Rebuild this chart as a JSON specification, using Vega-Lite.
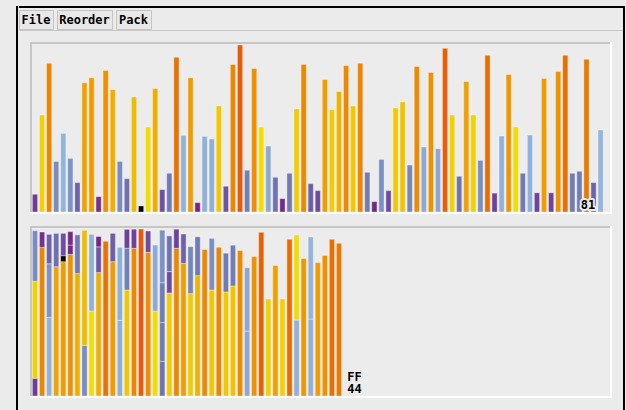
{
  "$schema": "https://vega.github.io/schema/vega-lite/v6.json",
  "background": "#ebebeb",
  "padding": {"left": 16, "top": 6, "right": 2, "bottom": 0},
  "config": {"view": {"stroke": null}, "axis": {"grid": false}, "point": {"size": 0, "strokeWidth": 0, "filled": true, "opacity": 0}},
  "datasets": {
    "items": [
      {"i": 1, "v": 0.106, "bin": 1}, {"i": 2, "v": 0.581, "bin": 1}, {"i": 3, "v": 0.890, "bin": 2},
      {"i": 4, "v": 0.303, "bin": 1}, {"i": 5, "v": 0.471, "bin": 3}, {"i": 6, "v": 0.321, "bin": 3},
      {"i": 7, "v": 0.176, "bin": 3}, {"i": 8, "v": 0.774, "bin": 4}, {"i": 9, "v": 0.804, "bin": 5},
      {"i": 10, "v": 0.092, "bin": 2}, {"i": 11, "v": 0.848, "bin": 6}, {"i": 12, "v": 0.733, "bin": 7},
      {"i": 13, "v": 0.303, "bin": 8}, {"i": 14, "v": 0.200, "bin": 4}, {"i": 15, "v": 0.689, "bin": 8},
      {"i": 16, "v": 0.036, "bin": 5}, {"i": 17, "v": 0.509, "bin": 9}, {"i": 18, "v": 0.739, "bin": 10},
      {"i": 19, "v": 0.134, "bin": 5}, {"i": 20, "v": 0.232, "bin": 7}, {"i": 21, "v": 0.926, "bin": 11},
      {"i": 22, "v": 0.459, "bin": 9}, {"i": 23, "v": 0.804, "bin": 12}, {"i": 24, "v": 0.056, "bin": 6},
      {"i": 25, "v": 0.453, "bin": 13}, {"i": 26, "v": 0.437, "bin": 13}, {"i": 27, "v": 0.635, "bin": 14},
      {"i": 28, "v": 0.154, "bin": 10}, {"i": 29, "v": 0.884, "bin": 15}, {"i": 30, "v": 1.000, "bin": 16},
      {"i": 31, "v": 0.250, "bin": 14}, {"i": 32, "v": 0.860, "bin": 17}, {"i": 33, "v": 0.509, "bin": 18},
      {"i": 34, "v": 0.395, "bin": 18}, {"i": 35, "v": 0.208, "bin": 19}, {"i": 36, "v": 0.080, "bin": 6},
      {"i": 37, "v": 0.232, "bin": 19}, {"i": 38, "v": 0.617, "bin": 20}, {"i": 39, "v": 0.884, "bin": 21},
      {"i": 40, "v": 0.170, "bin": 12}, {"i": 41, "v": 0.128, "bin": 17}, {"i": 42, "v": 0.794, "bin": 22},
      {"i": 43, "v": 0.613, "bin": 23}, {"i": 44, "v": 0.721, "bin": 24}, {"i": 45, "v": 0.878, "bin": 25},
      {"i": 46, "v": 0.635, "bin": 26}, {"i": 47, "v": 0.890, "bin": 27}, {"i": 48, "v": 0.238, "bin": 19},
      {"i": 49, "v": 0.062, "bin": 10}, {"i": 50, "v": 0.315, "bin": 19}, {"i": 51, "v": 0.128, "bin": 20},
      {"i": 52, "v": 0.623, "bin": 28}, {"i": 53, "v": 0.659, "bin": 29}, {"i": 54, "v": 0.281, "bin": 23},
      {"i": 55, "v": 0.872, "bin": 30}, {"i": 56, "v": 0.389, "bin": 31}, {"i": 57, "v": 0.836, "bin": 32},
      {"i": 58, "v": 0.379, "bin": 31}, {"i": 59, "v": 0.980, "bin": 33}, {"i": 60, "v": 0.581, "bin": 34},
      {"i": 61, "v": 0.214, "bin": 20}, {"i": 62, "v": 0.782, "bin": 35}, {"i": 63, "v": 0.581, "bin": 36},
      {"i": 64, "v": 0.309, "bin": 26}, {"i": 65, "v": 0.938, "bin": 37}, {"i": 66, "v": 0.113, "bin": 14},
      {"i": 67, "v": 0.455, "bin": 38}, {"i": 68, "v": 0.824, "bin": 39}, {"i": 69, "v": 0.509, "bin": 38},
      {"i": 70, "v": 0.232, "bin": 24}, {"i": 71, "v": 0.461, "bin": 40}, {"i": 72, "v": 0.115, "bin": 15},
      {"i": 73, "v": 0.800, "bin": 41}, {"i": 74, "v": 0.115, "bin": 21}, {"i": 75, "v": 0.842, "bin": 42},
      {"i": 76, "v": 0.938, "bin": 43}, {"i": 77, "v": 0.232, "bin": 28}, {"i": 78, "v": 0.244, "bin": 29},
      {"i": 79, "v": 0.914, "bin": 44}, {"i": 80, "v": 0.176, "bin": 22}, {"i": 81, "v": 0.491, "bin": 40}
    ]
  },
  "spacing": 0,
  "hconcat": [
    {"width": 2, "height": 404, "view": {"fill": "#000000"}, "data": {"values": [{}]}, "mark": "point"},
    {
      "spacing": 0,
      "vconcat": [
        {"width": 604, "height": 2, "view": {"fill": "#000000"}, "data": {"values": [{}]}, "mark": "point"},
        {"width": 604, "height": 1, "data": {"values": [{}]}, "mark": "point"},
        {
          "spacing": 2,
          "hconcat": [
            {"width": 34, "height": 19, "view": {"fill": "#e8e8e8", "stroke": "#c4c4c4"}, "data": {"values": [{"label": "File"}]},
             "mark": {"type": "text", "font": "DejaVu Sans Mono", "fontWeight": "bold", "fontSize": 12, "baseline": "middle", "color": "#000000"},
             "encoding": {"text": {"field": "label"}}},
            {"width": 55, "height": 19, "view": {"fill": "#e8e8e8", "stroke": "#c4c4c4"}, "data": {"values": [{"label": "Reorder"}]},
             "mark": {"type": "text", "font": "DejaVu Sans Mono", "fontWeight": "bold", "fontSize": 12, "baseline": "middle", "color": "#000000"},
             "encoding": {"text": {"field": "label"}}},
            {"width": 35, "height": 19, "view": {"fill": "#e8e8e8", "stroke": "#c4c4c4"}, "data": {"values": [{"label": "Pack"}]},
             "mark": {"type": "text", "font": "DejaVu Sans Mono", "fontWeight": "bold", "fontSize": 12, "baseline": "middle", "color": "#000000"},
             "encoding": {"text": {"field": "label"}}}
          ]
        },
        {"width": 604, "height": 1, "view": {"fill": "#c8c8c8"}, "data": {"values": [{}]}, "mark": "point"},
        {"width": 604, "height": 10, "data": {"values": [{}]}, "mark": "point"},
        {
          "spacing": 0,
          "hconcat": [
            {"width": 10, "height": 1, "data": {"values": [{}]}, "mark": "point"},
            {
              "spacing": 0,
              "vconcat": [
                {
                  "width": 582, "height": 172,
                  "view": {"fill": "#ececec"},
                  "layer": [
                    {
                      "data": {"name": "items"},
                      "mark": {"type": "bar", "width": 5.2, "stroke": "#ffffff", "strokeOpacity": 0.35, "strokeWidth": 1},
                      "encoding": {
                        "x": {"field": "i", "type": "quantitative", "scale": {"domain": [0.293, 82.61], "nice": false, "zero": false, "padding": 0}, "axis": null},
                        "y": {"field": "v", "type": "quantitative", "scale": {"domain": [-0.012, 1.018], "nice": false, "zero": false, "padding": 0}, "axis": null},
                        "color": {"field": "v", "type": "quantitative", "legend": null,
                          "scale": {"type": "linear", "clamp": true, "interpolate": "rgb",
                            "domain": [0.0, 0.04, 0.05, 0.085, 0.1, 0.125, 0.16, 0.2, 0.25, 0.31, 0.38, 0.45, 0.499, 0.501, 0.55, 0.62, 0.69, 0.735, 0.79, 0.85, 0.89, 0.93, 1.0],
                            "range": ["#000000", "#000000", "#7a2386", "#782a8a", "#6f3996", "#6e4aa0", "#6e58a6", "#6f70ae", "#7080b8", "#7a8fc4", "#8ba8d4", "#90b0d8", "#94b6dc", "#f2de00", "#f2d600", "#f2ca00", "#f0bc00", "#f0ae00", "#f09e00", "#ee9000", "#ec8600", "#ea7000", "#e65a0a"]}}
                      }
                    },
                    {"data": {"values": [{}]}, "mark": {"type": "rule", "color": "#c6c6c6", "strokeWidth": 2}, "encoding": {"x": {"datum": 0.434}}},
                    {"data": {"values": [{}]}, "mark": {"type": "rule", "color": "#c6c6c6", "strokeWidth": 2}, "encoding": {"y": {"datum": 1.012}}},
                    {"data": {"values": [{}]}, "mark": {"type": "rule", "color": "#ffffff", "strokeWidth": 2}, "encoding": {"y": {"datum": -0.006}}},
                    {"data": {"values": [{}]}, "mark": {"type": "rule", "color": "#ffffff", "strokeWidth": 2}, "encoding": {"x": {"datum": 82.47}}},
                    {"data": {"values": [{"label": "81"}]},
                     "mark": {"type": "text", "font": "DejaVu Sans Mono", "fontWeight": "bold", "fontSize": 12, "baseline": "bottom", "align": "center", "fill": "#ebebeb", "stroke": "#ebebeb", "strokeWidth": 4, "strokeJoin": "round"},
                     "encoding": {"x": {"datum": 79.2}, "y": {"datum": 0}, "text": {"field": "label"}}},
                    {"data": {"values": [{"label": "81"}]},
                     "mark": {"type": "text", "font": "DejaVu Sans Mono", "fontWeight": "bold", "fontSize": 12, "baseline": "bottom", "align": "center", "color": "#000000"},
                     "encoding": {"x": {"datum": 79.2}, "y": {"datum": 0}, "text": {"field": "label"}}}
                  ]
                },
                {"width": 582, "height": 10, "data": {"values": [{}]}, "mark": "point"},
                {
                  "width": 582, "height": 172,
                  "view": {"fill": "#ececec"},
                  "layer": [
                    {
                      "data": {"name": "items"},
                      "mark": {"type": "bar", "width": 5.2, "stroke": "#ffffff", "strokeOpacity": 0.35, "strokeWidth": 1},
                      "encoding": {
                        "x": {"field": "bin", "type": "quantitative", "scale": {"domain": [0.293, 82.61], "nice": false, "zero": false, "padding": 0}, "axis": null},
                        "y": {"field": "v", "type": "quantitative", "stack": "zero", "scale": {"domain": [-0.012, 1.018], "nice": false, "zero": false, "padding": 0}, "axis": null},
                        "order": {"field": "i", "type": "quantitative"},
                        "color": {"field": "v", "type": "quantitative", "legend": null,
                          "scale": {"type": "linear", "clamp": true, "interpolate": "rgb",
                            "domain": [0.0, 0.04, 0.05, 0.085, 0.1, 0.125, 0.16, 0.2, 0.25, 0.31, 0.38, 0.45, 0.499, 0.501, 0.55, 0.62, 0.69, 0.735, 0.79, 0.85, 0.89, 0.93, 1.0],
                            "range": ["#000000", "#000000", "#7a2386", "#782a8a", "#6f3996", "#6e4aa0", "#6e58a6", "#6f70ae", "#7080b8", "#7a8fc4", "#8ba8d4", "#90b0d8", "#94b6dc", "#f2de00", "#f2d600", "#f2ca00", "#f0bc00", "#f0ae00", "#f09e00", "#ee9000", "#ec8600", "#ea7000", "#e65a0a"]}}
                      }
                    },
                    {"data": {"values": [{}]}, "mark": {"type": "rule", "color": "#c6c6c6", "strokeWidth": 2}, "encoding": {"x": {"datum": 0.434}}},
                    {"data": {"values": [{}]}, "mark": {"type": "rule", "color": "#c6c6c6", "strokeWidth": 2}, "encoding": {"y": {"datum": 1.012}}},
                    {"data": {"values": [{}]}, "mark": {"type": "rule", "color": "#ffffff", "strokeWidth": 2}, "encoding": {"y": {"datum": -0.006}}},
                    {"data": {"values": [{}]}, "mark": {"type": "rule", "color": "#ffffff", "strokeWidth": 2}, "encoding": {"x": {"datum": 82.47}}},
                    {"data": {"values": [{}]},
                     "mark": {"type": "text", "text": ["FF", "44"], "font": "DejaVu Sans Mono", "fontWeight": "bold", "fontSize": 12, "lineHeight": 12, "baseline": "bottom", "align": "center", "color": "#000000"},
                     "encoding": {"x": {"datum": 46.2}, "y": {"datum": 0.072}}}
                  ]
                }
              ]
            }
          ]
        }
      ]
    },
    {"width": 2, "height": 404, "view": {"fill": "#000000"}, "data": {"values": [{}]}, "mark": "point"}
  ]
}
